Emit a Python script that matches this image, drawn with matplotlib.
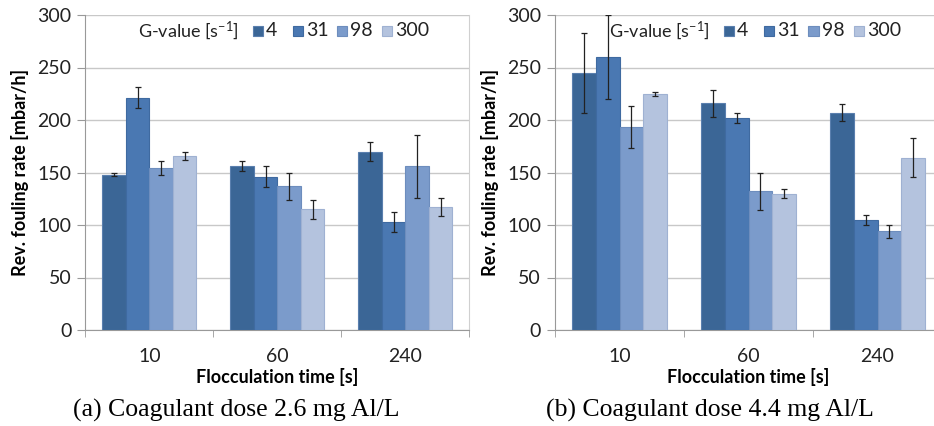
import matplotlib.pyplot as plt
import numpy as np
from matplotlib.patches import Rectangle

times = ["10", "60", "240"]
g_values = ["4", "31", "98", "300"]
colors = ["#3B6696", "#4A78B2", "#7B9BCB", "#B4C3DE"]
edges = ["#5A7FAE", "#3F6AA0", "#6D8DBD", "#9FB1D2"]

# rows = G-value, cols = flocculation time
rate_a = [[148, 156, 170],
          [221, 146, 103],
          [154, 137, 156],
          [166, 115, 117]]
err_a = [[1.5, 4.5, 9],
         [10, 10, 9.5],
         [6.5, 13, 30],
         [4, 9, 8.5]]

rate_b = [[245, 216, 207],
          [260, 202, 105],
          [193, 132, 94],
          [225, 130, 164]]
err_b = [[38, 13, 8],
         [40, 4.5, 4.7],
         [20, 17.5, 6],
         [2, 4.5, 18.6]]

captions = ["(a) Coagulant dose 2.6 mg Al/L", "(b) Coagulant dose 4.4 mg Al/L"]

plt.rcParams['font.family'] = ['Lato', 'DejaVu Sans']
plt.rcParams['mathtext.default'] = 'regular'

fig = plt.figure(figsize=(9.34, 4.26), dpi=100)
W, H = 934, 426
ax_a = fig.add_axes([85.3 / W, 96 / H, 384 / W, 315 / H])
ax_b = fig.add_axes([555 / W, 96 / H, 387 / W, 315 / H])

bw = 0.184
x = np.arange(len(times))
leg_x = [0.437, 0.541, 0.655, 0.773]

for ax, rate, err, cap, cx in [(ax_a, rate_a, err_a, captions[0], 236),
                               (ax_b, rate_b, err_b, captions[1], 710)]:
    for i in range(len(g_values)):
        pos = x + (i - 1.5) * bw
        ax.bar(pos, rate[i], bw, color=colors[i], edgecolor=edges[i],
               linewidth=0.8, zorder=3)
        ax.errorbar(pos, rate[i], yerr=err[i], fmt='none', ecolor='#222222',
                    elinewidth=0.9, capsize=2.2, capthick=0.9, zorder=4)
    ax.set_ylim(0, 300)
    ax.set_xlim(-0.5, 2.5)
    ax.set_yticks(range(0, 301, 50))
    ax.yaxis.grid(True, color='#C8C8C8', linewidth=1.0, zorder=0)
    ax.set_xticks(x)
    ax.set_xticklabels(times)
    ax.set_xticks([-0.5, 0.5, 1.5, 2.5], minor=True)
    ax.tick_params(axis='x', which='major', length=0, pad=13, labelsize=14,
                   labelcolor='#222222')
    ax.tick_params(axis='x', which='minor', length=5, color='#999999')
    ax.tick_params(axis='y', length=6, color='#999999', labelsize=14,
                   labelcolor='#222222', pad=4)
    ax.spines['top'].set_visible(False)
    ax.spines['right'].set_color('#D0D0D0')
    ax.spines['left'].set_color('#999999')
    ax.spines['bottom'].set_color('#999999')
    ax.set_xlabel("Flocculation time [s]", fontsize=13, fontweight='bold',
                  labelpad=2)
    ax.set_ylabel("Rev. fouling rate [mbar/h]", fontsize=13,
                  fontweight='bold', labelpad=6)
    ax.text(0.40, 0.95, "G-value [s$^{-1}$]", transform=ax.transAxes,
            fontsize=13, va='center', ha='right', color='#222222')
    for i in range(4):
        ax.add_patch(Rectangle((leg_x[i], 0.95 - 0.016), 0.026, 0.032,
                               transform=ax.transAxes, facecolor=colors[i],
                               edgecolor=edges[i], linewidth=0.8,
                               clip_on=False, zorder=5))
        ax.text(leg_x[i] + 0.034, 0.95, g_values[i], transform=ax.transAxes,
                fontsize=14, va='center', ha='left', color='#222222')
    fig.text(cx / W, 1 - 410 / H, cap, fontsize=18.5, ha='center', va='center',
             family='Liberation Serif')

ax_b.spines['right'].set_visible(False)

fig.savefig("out.png", dpi=100)
